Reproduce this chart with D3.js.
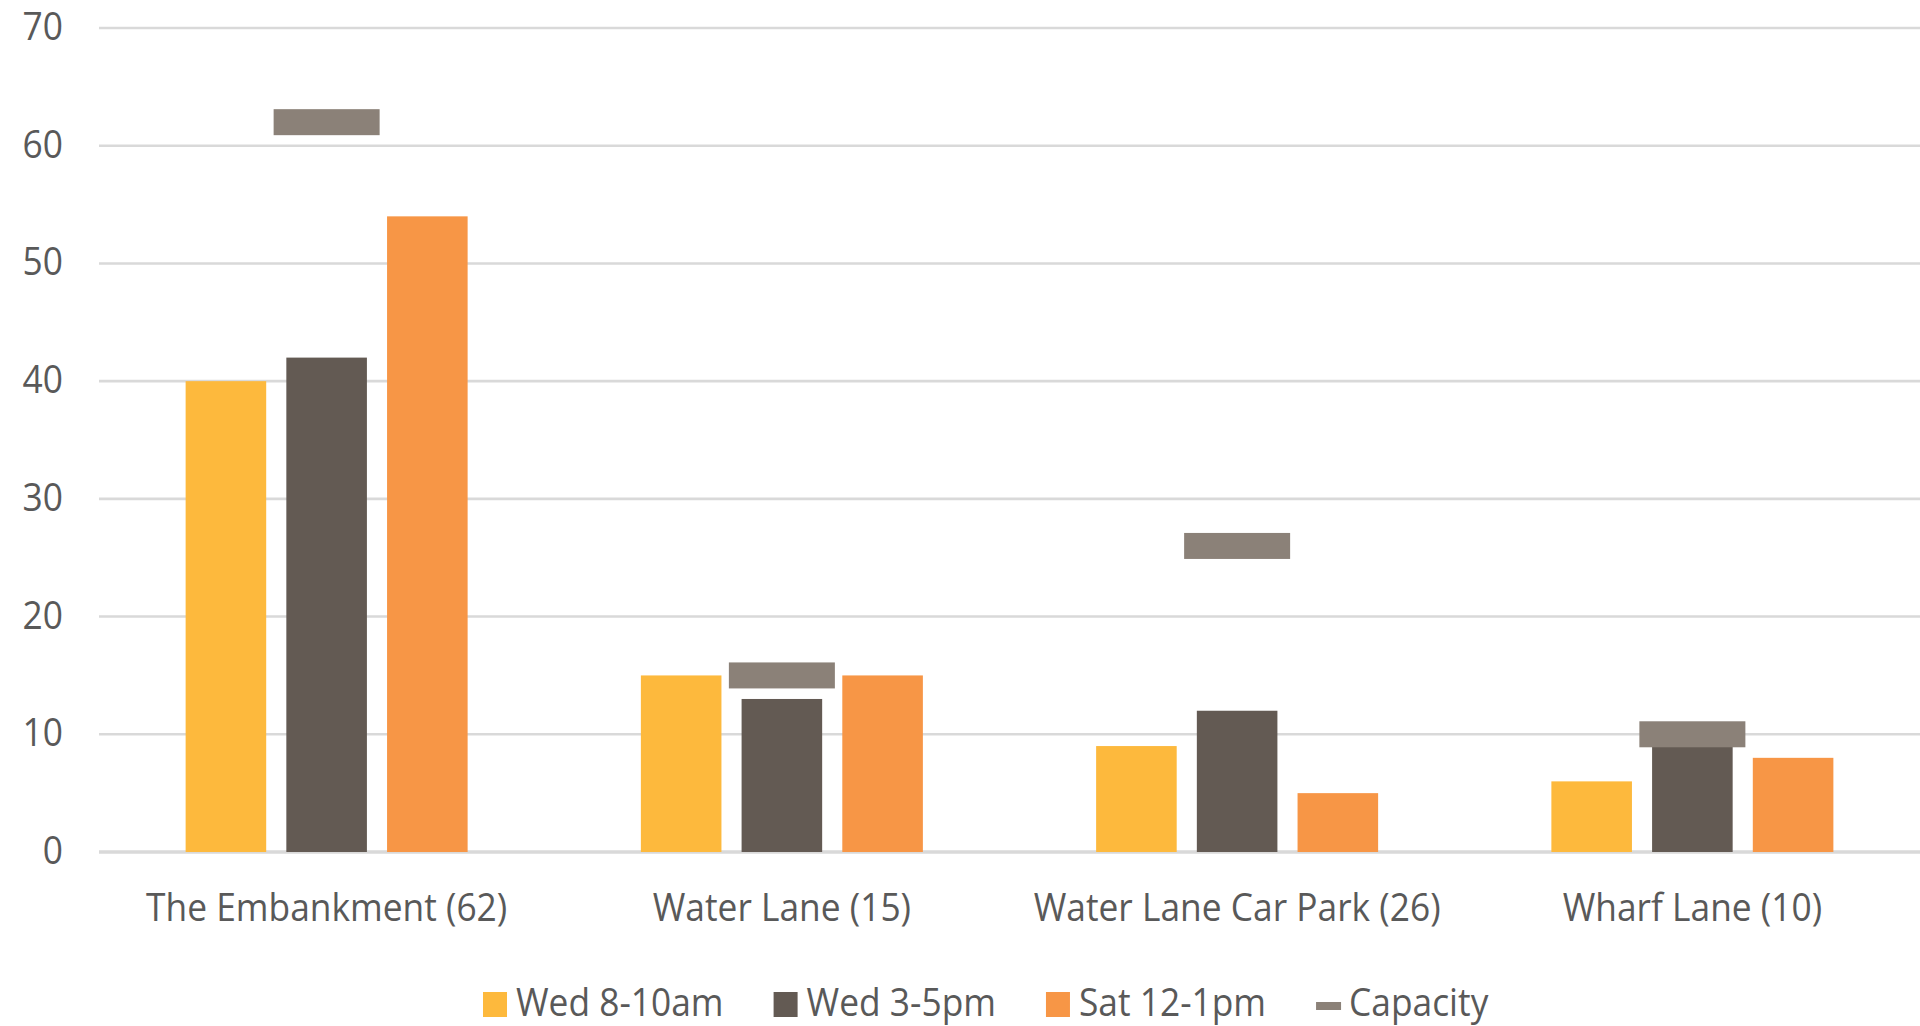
<!DOCTYPE html>
<html>
<head>
<meta charset="utf-8">
<script src="https://cdn.jsdelivr.net/npm/d3@7"></script>
<style>
  html, body { margin: 0; padding: 0; background: #fff; }
  svg text { font-family: "Open Sans", sans-serif; fill: #595959; }
</style>
</head>
<body>
<div id="chart"></div>
<script>
//Data
var categories = ["The Embankment (62)", "Water Lane (15)", "Water Lane Car Park (26)", "Wharf Lane (10)"];
var seriesNames = ["Wed 8-10am", "Wed 3-5pm", "Sat 12-1pm"];
var wedMorning = [40, 15, 9, 6];
var wedAfternoon = [42, 13, 12, 9];
var satMidday = [54, 15, 5, 8];
var capacity = [62, 15, 26, 10];
var yTicks = [0, 10, 20, 30, 40, 50, 60, 70];
var capacityName = "Capacity";

var seriesValues = [wedMorning, wedAfternoon, satMidday];
var colors = ["#fdb93d", "#635a53", "#f79646"];
var capColor = "#8b8178";

//Width and height
var w = 1920;
var h = 1026;
// (window.top is read-only, so plot edges get their own names)
var plotLeft = 99, plotRight = 1920, plotTop = 28, plotBottom = 852;
var squeeze = 0.93;   // text is a bit narrower than Open Sans

var svg = d3.select("#chart")
            .append("svg")
            .attr("width", w)
            .attr("height", h);

var x0 = d3.scaleBand()
    .domain(categories)
    .range([plotLeft, plotRight])
    .padding(0);

var x1 = d3.scaleBand()
    .domain(seriesNames)
    .range([0, 282])
    .paddingInner(0.2);

var y = d3.scaleLinear()
    .domain([0, 70])
    .range([plotBottom, plotTop]);

//Gridlines
svg.selectAll("line.grid")
    .data(yTicks)
    .enter()
    .append("line")
    .attr("class", "grid")
    .attr("x1", plotLeft)
    .attr("x2", plotRight)
    .attr("y1", function (d) { return y(d); })
    .attr("y2", function (d) { return y(d); })
    .style("stroke", "#d9d9d9")
    .style("stroke-width", function (d) { return d === 0 ? 3.5 : 2.6; });

//Y tick labels
svg.selectAll("text.ytick")
    .data(yTicks)
    .enter()
    .append("text")
    .attr("class", "ytick")
    .attr("text-anchor", "end")
    .attr("transform", function (d) {
        return "translate(63," + (y(d) + 12) + ") scale(" + squeeze + ",1)";
    })
    .style("font-size", "38px")
    .text(function (d) { return d; });

//Bars
var groups = svg.selectAll("g.cat")
    .data(categories)
    .enter()
    .append("g")
    .attr("class", "cat")
    .attr("transform", function (d) {
        return "translate(" + (x0(d) + x0.bandwidth() / 2 - 141) + ",0)";
    });

groups.selectAll("rect.bar")
    .data(function (d, i) {
        return seriesNames.map(function (s, j) {
            return { series: s, value: seriesValues[j][i], color: colors[j] };
        });
    })
    .enter()
    .append("rect")
    .attr("class", "bar")
    .attr("x", function (d) { return x1(d.series); })
    .attr("width", x1.bandwidth())
    .attr("y", function (d) { return y(d.value); })
    .attr("height", function (d) { return y(0) - y(d.value); })
    .style("fill", function (d) { return d.color; });

//Capacity markers
svg.selectAll("rect.cap")
    .data(categories)
    .enter()
    .append("rect")
    .attr("class", "cap")
    .attr("x", function (d) { return x0(d) + x0.bandwidth() / 2 - 53; })
    .attr("width", 106)
    .attr("y", function (d, i) { return y(capacity[i]) - 13; })
    .attr("height", 26)
    .style("fill", capColor);

//Category labels
svg.selectAll("text.cat")
    .data(categories)
    .enter()
    .append("text")
    .attr("class", "cat")
    .attr("text-anchor", "middle")
    .attr("transform", function (d) {
        return "translate(" + (x0(d) + x0.bandwidth() / 2) + ",921) scale(" + squeeze + ",1)";
    })
    .style("font-size", "38px")
    .text(function (d) { return d; });

//Legend
var legendItems = seriesNames.map(function (s, j) {
    return { name: s, color: colors[j], type: "box" };
});
legendItems.push({ name: capacityName, color: capColor, type: "dash" });

var legend = svg.append("g");
var lx = 483;
legendItems.forEach(function (d) {
    var item = legend.append("g").attr("transform", "translate(" + lx + ",0)");
    if (d.type === "box") {
        item.append("rect")
            .attr("x", 0).attr("y", 992)
            .attr("width", 24).attr("height", 25)
            .style("fill", d.color);
    } else {
        item.append("rect")
            .attr("x", 0).attr("y", 1002)
            .attr("width", 25).attr("height", 8)
            .style("fill", d.color);
    }
    var t = item.append("text")
        .attr("transform", "translate(33,1016) scale(" + squeeze + ",1)")
        .style("font-size", "38px")
        .text(d.name);
    var tw = t.node().getComputedTextLength() * squeeze;
    lx += 33 + tw + 50;
});
</script>
</body>
</html>
